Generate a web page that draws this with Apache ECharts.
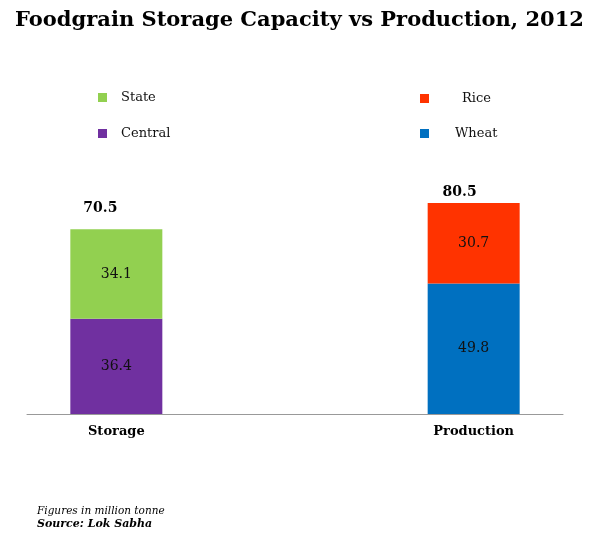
<!DOCTYPE html>
<html lang="en">
<head>
    <meta charset="UTF-8">
    <title>Foodgrain Storage Capacity vs Production, 2012</title>
    <script src="https://cdn.jsdelivr.net/npm/echarts@6/dist/echarts.min.js"></script>
    <style>
        html, body { margin: 0; padding: 0; background: #fff; }
        #chart { width: 599px; height: 557px; }
    </style>
</head>
<body>
    <div id="chart"></div>
    <script>
        // data (million tonne)
        var categories = ['Storage', '', 'Production'];
        var central = [36.4, '-', '-'];
        var state = [34.1, '-', '-'];
        var wheat = ['-', '-', 49.8];
        var rice = ['-', '-', 30.7];
        var totals = [70.5, '-', 80.5];

        var serif = "'DejaVu Serif', Georgia, serif";
        // label nudges for the totals above each bar
        var totalOffsets = [[-16, -13], null, [-14, -3]];

        function stackBar(name, data, color) {
            return {
                name: name,
                type: 'bar',
                stack: 'all',
                barWidth: 92,
                data: data,
                itemStyle: { color: color },
                label: {
                    show: true,
                    position: 'inside',
                    color: '#111',
                    fontFamily: serif,
                    fontSize: 14
                }
            };
        }

        function legendItem(name, left, top, pad) {
            return {
                data: [name],
                left: left,
                top: top,
                padding: 0,
                itemWidth: 9,
                itemHeight: 9,
                icon: 'rect',
                selectedMode: false,
                textStyle: {
                    fontFamily: serif,
                    fontSize: 13,
                    color: '#111',
                    padding: [7, 0, 0, pad]
                }
            };
        }

        var chart = echarts.init(document.getElementById('chart'));
        var option = {
            animation: false,
            title: [{
                text: 'Foodgrain Storage Capacity vs Production, 2012',
                left: 'center',
                top: 10,
                padding: 0,
                textStyle: {
                    fontFamily: serif,
                    fontSize: 21,
                    fontWeight: 'bold',
                    color: '#000'
                }
            }, {
                text: 'Figures in million tonne',
                left: 37,
                top: 506,
                padding: 0,
                textStyle: {
                    fontFamily: serif,
                    fontSize: 10.5,
                    fontStyle: 'italic',
                    fontWeight: 'normal',
                    color: '#000'
                }
            }, {
                text: 'Source: Lok Sabha',
                left: 37,
                top: 519,
                padding: 0,
                textStyle: {
                    fontFamily: serif,
                    fontSize: 11,
                    fontStyle: 'italic',
                    fontWeight: 'bold',
                    color: '#000'
                }
            }],
            legend: [
                legendItem('State', 98, 91, 9),
                legendItem('Central', 98, 127, 9),
                legendItem('Rice', 420, 92, 28),
                legendItem('Wheat', 420, 127, 21)
            ],
            grid: {
                left: 27,
                right: 36,
                top: 152,
                bottom: 143,
                containLabel: false
            },
            xAxis: {
                type: 'category',
                data: categories,
                axisTick: { show: false },
                axisLine: {
                    lineStyle: { color: '#999', width: 1 }
                },
                axisLabel: {
                    margin: 11,
                    fontFamily: serif,
                    fontSize: 13,
                    fontWeight: 'bold',
                    color: '#000'
                }
            },
            yAxis: {
                type: 'value',
                min: 0,
                max: 100,
                show: false,
                splitLine: { show: false }
            },
            series: [
                stackBar('Central', central, '#7030a0'),
                stackBar('State', state, '#92d050'),
                stackBar('Wheat', wheat, '#0070c0'),
                stackBar('Rice', rice, '#ff3300'),
                {
                    name: 'Total',
                    type: 'scatter',
                    symbolSize: 1,
                    itemStyle: { color: 'rgba(0,0,0,0)' },
                    data: totals.map(function (v, i) {
                        if (v === '-') return '-';
                        return { value: v, label: { offset: totalOffsets[i] } };
                    }),
                    label: {
                        show: true,
                        position: 'top',
                        distance: 0,
                        color: '#000',
                        opacity: 1,
                        fontFamily: serif,
                        fontSize: 14,
                        fontWeight: 'bold'
                    }
                }
            ]
        };
        chart.setOption(option);
    </script>
</body>
</html>
